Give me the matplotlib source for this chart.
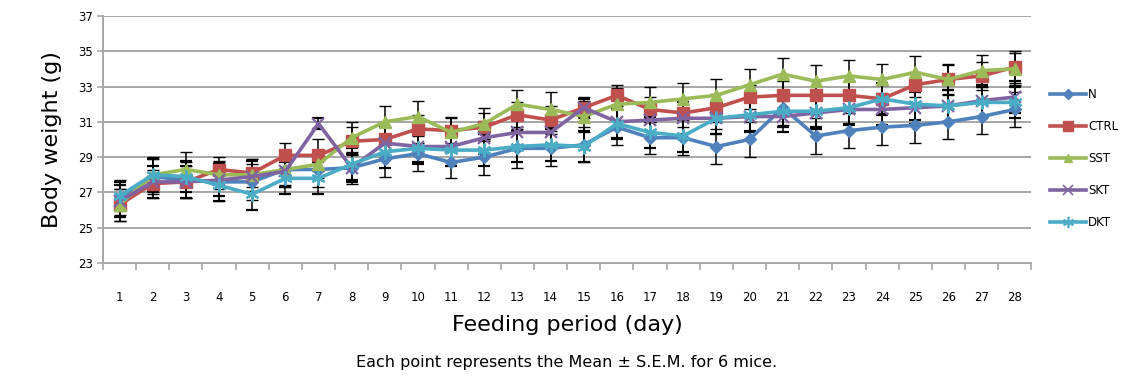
import matplotlib
matplotlib.use("Agg")
import matplotlib.pyplot as plt
from matplotlib.lines import Line2D
import numpy as np

days = list(range(1, 29))

n_mean = [26.7, 27.9, 27.7, 27.6, 27.6, 28.3, 28.3, 28.4, 28.9, 29.2, 28.7, 29.0, 29.5, 29.5,
          29.7, 30.7, 30.1, 30.1, 29.6, 30.0, 31.8, 30.2, 30.5, 30.7, 30.8, 31.0, 31.3, 31.7]
ctrl_mean = [26.3, 27.5, 27.6, 28.3, 28.1, 29.1, 29.1, 29.9, 30.0, 30.6, 30.5, 30.7, 31.4, 31.1,
             31.8, 32.5, 31.7, 31.5, 31.8, 32.4, 32.5, 32.5, 32.5, 32.3, 33.1, 33.4, 33.6, 34.1]
sst_mean = [26.3, 28.0, 28.3, 28.0, 28.0, 28.3, 28.6, 30.1, 31.0, 31.3, 30.4, 30.9, 32.0, 31.7,
            31.3, 32.0, 32.1, 32.3, 32.5, 33.1, 33.7, 33.3, 33.6, 33.4, 33.8, 33.4, 33.9, 34.0]
skt_mean = [26.5, 27.6, 27.6, 27.7, 27.9, 28.2, 30.9, 28.4, 29.8, 29.6, 29.6, 30.1, 30.4, 30.4,
            31.8, 31.0, 31.1, 31.2, 31.2, 31.3, 31.3, 31.5, 31.7, 31.7, 31.8, 31.9, 32.2, 32.4]
dkt_mean = [26.8, 28.0, 27.9, 27.4, 26.9, 27.8, 27.8, 28.6, 29.3, 29.5, 29.4, 29.4, 29.6, 29.7,
            29.6, 30.9, 30.4, 30.2, 31.2, 31.4, 31.6, 31.6, 31.8, 32.3, 32.0, 31.9, 32.1, 32.1]

n_sem = [1.0, 1.0, 1.0, 1.1, 1.0, 1.0, 1.0, 0.9, 1.0, 1.0, 0.9, 1.0, 1.1, 1.0,
         1.0, 1.0, 0.9, 1.0, 1.0, 1.0, 1.0, 1.0, 1.0, 1.0, 1.0, 1.0, 1.0, 1.0]
ctrl_sem = [0.9, 0.8, 0.9, 0.7, 0.8, 0.7, 0.9, 0.8, 0.7, 0.8, 0.7, 0.8, 0.7, 0.8,
            0.6, 0.6, 0.7, 0.8, 0.8, 0.7, 0.8, 0.8, 0.8, 0.8, 0.7, 0.8, 0.8, 0.9]
sst_sem = [0.9, 1.0, 1.0, 0.8, 0.9, 0.9, 0.8, 0.9, 0.9, 0.9, 0.9, 0.9, 0.8, 1.0,
           0.9, 0.9, 0.9, 0.9, 0.9, 0.9, 0.9, 0.9, 0.9, 0.9, 0.9, 0.9, 0.9, 0.9]
skt_sem = [0.9, 0.9, 0.9, 0.9, 0.9, 0.9, 0.3, 0.8, 0.9, 0.9, 0.9, 0.9, 0.9, 0.9,
           0.5, 0.9, 0.9, 0.9, 0.9, 0.9, 0.9, 0.9, 0.9, 0.9, 0.9, 0.9, 0.9, 0.9]
dkt_sem = [0.8, 0.9, 0.9, 0.9, 0.9, 0.9, 0.9, 0.9, 0.9, 0.9, 0.9, 0.9, 0.9, 0.9,
           0.9, 0.9, 0.9, 0.9, 0.9, 0.9, 0.9, 0.9, 0.9, 0.9, 0.9, 0.9, 0.9, 0.9]

labels = ["N", "CTRL", "SST", "SKT", "DKT"]
means = [n_mean, ctrl_mean, sst_mean, skt_mean, dkt_mean]
sems = [n_sem, ctrl_sem, sst_sem, skt_sem, dkt_sem]
colors = ["#4F81BD", "#C0504D", "#9BBB59", "#8064A2", "#4BACC6"]
markers = ["D", "s", "^", "x", (6, 2, 0)]
msizes = [6.5, 8.5, 8, 9, 10]

plt.rcParams["font.family"] = ["DejaVu Sans"]

fig = plt.figure(figsize=(11.28, 3.78), dpi=100)
ax = fig.add_axes([0.0913, 0.304, 0.823, 0.654])

grid_c = "#A6A6A6"
handles = []
for m, s, lab, c, mk, ms in zip(means, sems, labels, colors, markers, msizes):
    thin = mk in ("x", (6, 2, 0))
    ax.errorbar(days, m, yerr=s, color=c, lw=2.6, marker=mk, ms=ms,
                mec=c, mfc=c, mew=1.6 if thin else 1,
                ecolor="black", elinewidth=1.1, capsize=4, capthick=1.1,
                zorder=3)
    handles.append(Line2D([], [], color=c, lw=2.6, marker=mk, ms=ms * 0.8,
                          mec=c, mfc=c, mew=1.2 if thin else 1, label=lab))

ax.set_xlim(0.5, 28.5)
ax.set_ylim(23, 37)
ax.set_yticks(np.arange(23, 38, 2))
ax.yaxis.grid(True, color=grid_c, lw=1.4)
ax.set_axisbelow(True)

# category ticks on boundaries, labels at centers
ax.set_xticks(np.arange(0.5, 29, 1))
ax.set_xticklabels([])
ax.set_xticks(days, minor=True)
ax.set_xticklabels([str(d) for d in days], minor=True, fontsize=8.5)
ax.tick_params(axis="x", which="major", length=5, color=grid_c, width=1.2, direction="out")
ax.tick_params(axis="x", which="minor", length=0, pad=20)
ax.tick_params(axis="y", length=4, color=grid_c, width=1.2, labelsize=8.5, pad=3)

for side in ["top", "right"]:
    ax.spines[side].set_visible(False)
ax.spines["left"].set_color(grid_c)
ax.spines["left"].set_linewidth(1.4)
ax.spines["bottom"].set_color(grid_c)
ax.spines["bottom"].set_linewidth(1.4)

ax.set_ylabel("Body weight (g)", fontsize=16, labelpad=12)
ax.set_xlabel("Feeding period (day)", fontsize=16, labelpad=8)
fig.text(0.502, 0.042, "Each point represents the Mean \u00b1 S.E.M. for 6 mice.",
         ha="center", va="center", fontsize=11.5)

fig.legend(handles=handles, loc="center left", bbox_to_anchor=(0.931, 0.58),
           frameon=False, fontsize=8.5, handlelength=3.0, labelspacing=1.6,
           handletextpad=0.2, borderaxespad=0, borderpad=0)

fig.savefig("out.png", dpi=100)
